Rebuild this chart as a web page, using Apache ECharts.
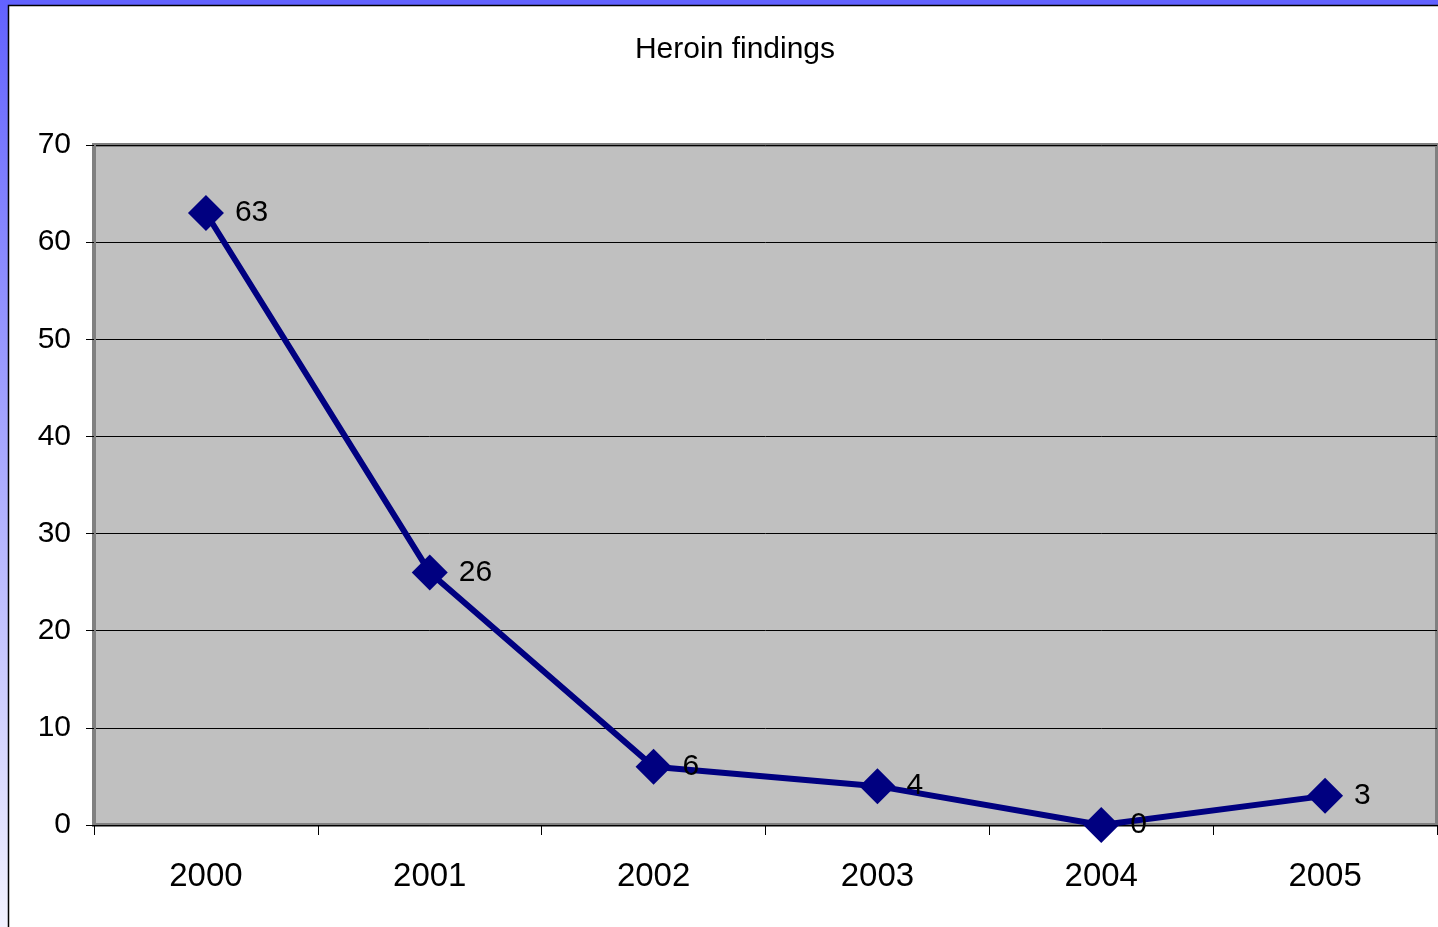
<!DOCTYPE html>
<html>
<head>
<meta charset="utf-8">
<title>Heroin findings</title>
<script src="https://cdn.jsdelivr.net/npm/echarts@6/dist/echarts.min.js"></script>
<style>
  html, body { margin: 0; padding: 0; background: #ffffff; }
  #chart { width: 1438px; height: 927px; }
</style>
</head>
<body>
<div id="chart"></div>
<script>
// Yearly heroin findings
const years = ['2000', '2001', '2002', '2003', '2004', '2005'];
const findings = [63, 26, 6, 4, 0, 3];
const yTicks = { min: 0, max: 70, step: 10 };

const font = 'Liberation Sans, Arial, Helvetica, sans-serif';
const chart = echarts.init(document.getElementById('chart'), null, { renderer: 'canvas' });

chart.setOption({
  backgroundColor: '#ffffff',
  animation: false,
  graphic: [
    // slide-style frame: blue strip on top, fading strip on the left
    {
      type: 'rect', left: 0, top: 0, z: 0,
      shape: { width: 1438, height: 5 },
      style: { fill: '#6262ff' }
    },
    {
      type: 'rect', left: 0, top: 0, z: 0,
      shape: { width: 8, height: 927 },
      style: {
        fill: new echarts.graphic.LinearGradient(0, 0, 0, 1, [
          { offset: 0, color: '#6262ff' },
          { offset: 1, color: '#f2f2ff' }
        ])
      }
    },
    {
      type: 'polyline', z: 1,
      shape: { points: [[8.5, 927], [8.5, 5.5], [1438, 5.5]] },
      style: { stroke: '#000000', lineWidth: 1.5, fill: null }
    }
  ],
  title: {
    text: 'Heroin findings',
    left: 730,
    textAlign: 'center',
    top: 30,
    textStyle: { fontFamily: font, fontSize: 30, fontWeight: 'normal', color: '#000000' }
  },
  grid: {
    left: 94, right: 1, top: 145, bottom: 102,
    show: true,
    backgroundColor: '#c0c0c0',
    borderColor: '#808080',
    borderWidth: 4
  },
  xAxis: {
    type: 'category',
    data: years,
    boundaryGap: true,
    axisLine: { show: true, lineStyle: { color: '#000000', width: 1 } },
    axisTick: { show: true, length: 10, alignWithLabel: false, lineStyle: { color: '#000000' } },
    axisLabel: { margin: 35, fontFamily: font, fontSize: 33, color: '#000000' },
    splitLine: { show: false }
  },
  yAxis: {
    type: 'value',
    min: yTicks.min,
    max: yTicks.max,
    interval: yTicks.step,
    axisLine: { show: true, lineStyle: { color: '#808080', width: 3 } },
    axisTick: { show: true, length: 8, lineStyle: { color: '#000000' } },
    axisLabel: { margin: 23, fontFamily: font, fontSize: 30, color: '#000000' },
    splitLine: { show: true, lineStyle: { color: '#000000', width: 1 } }
  },
  series: [{
    type: 'line',
    data: findings,
    symbol: 'diamond',
    symbolSize: 36,
    itemStyle: { color: '#000080' },
    lineStyle: { color: '#000080', width: 6 },
    label: {
      show: true,
      position: 'right',
      distance: 11,
      fontFamily: font,
      fontSize: 30,
      color: '#000000'
    },
    z: 5
  }]
});
</script>
</body>
</html>
